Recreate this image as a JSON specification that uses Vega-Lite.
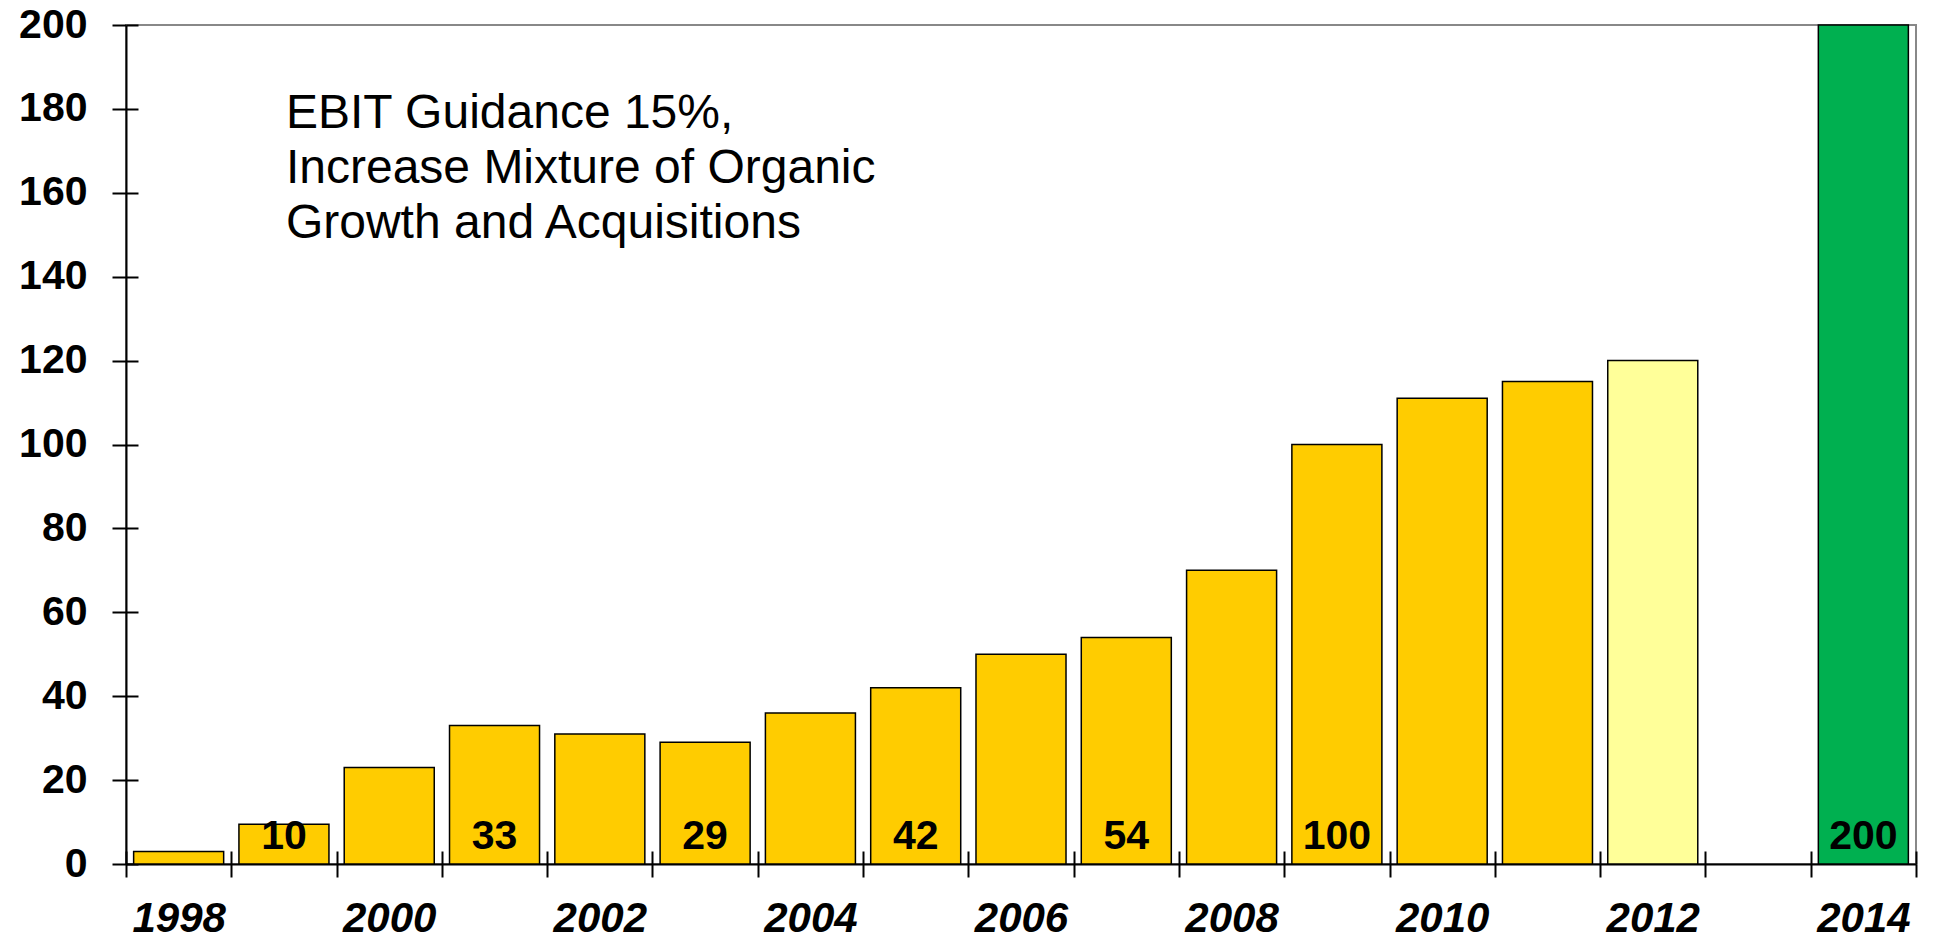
{
  "$schema": "https://vega.github.io/schema/vega-lite/v6.json",
  "width": 1790,
  "height": 839,
  "autosize": {"type": "none"},
  "padding": {"left": 126, "top": 25, "right": 17, "bottom": 73},
  "background": "white",
  "config": {
    "view": {"stroke": "#888888", "strokeWidth": 2},
    "font": "Liberation Sans"
  },
  "data": {
    "values": [
      {"year": "1998", "value": 3, "label": "", "kind": "actual"},
      {"year": "1999", "value": 9.5, "label": "10", "kind": "actual"},
      {"year": "2000", "value": 23, "label": "", "kind": "actual"},
      {"year": "2001", "value": 33, "label": "33", "kind": "actual"},
      {"year": "2002", "value": 31, "label": "", "kind": "actual"},
      {"year": "2003", "value": 29, "label": "29", "kind": "actual"},
      {"year": "2004", "value": 36, "label": "", "kind": "actual"},
      {"year": "2005", "value": 42, "label": "42", "kind": "actual"},
      {"year": "2006", "value": 50, "label": "", "kind": "actual"},
      {"year": "2007", "value": 54, "label": "54", "kind": "actual"},
      {"year": "2008", "value": 70, "label": "", "kind": "actual"},
      {"year": "2009", "value": 100, "label": "100", "kind": "actual"},
      {"year": "2010", "value": 111, "label": "", "kind": "actual"},
      {"year": "2011", "value": 115, "label": "", "kind": "actual"},
      {"year": "2012", "value": 120, "label": "", "kind": "plan"},
      {"year": "2014", "value": 200, "label": "200", "kind": "target"}
    ]
  },
  "resolve": {"axis": {"x": "independent", "y": "independent"}},
  "layer": [
    {
      "mark": {"type": "bar", "stroke": "black", "strokeWidth": 1.5, "width": {"band": 0.855}},
      "encoding": {
        "x": {
          "field": "year",
          "type": "ordinal",
          "scale": {
            "domain": ["1998","1999","2000","2001","2002","2003","2004","2005","2006","2007","2008","2009","2010","2011","2012","2013","2014"],
            "paddingInner": 0,
            "paddingOuter": 0
          },
          "axis": {
            "title": null,
            "tickBand": "extent",
            "labelExpr": "toNumber(datum.value) % 2 == 0 ? datum.label : ''",
            "labelAngle": 0,
            "labelFont": "Liberation Sans",
            "labelFontSize": 42,
            "labelFontWeight": "bold",
            "labelFontStyle": "italic",
            "labelColor": "black",
            "labelBaseline": "alphabetic",
            "labelPadding": 54,
            "tickSize": 13,
            "tickColor": "black",
            "tickWidth": 2,
            "domainColor": "black",
            "domainWidth": 2,
            "grid": false
          }
        },
        "y": {
          "field": "value",
          "type": "quantitative",
          "scale": {"domain": [0, 200], "nice": false},
          "axis": {
            "title": null,
            "values": [0, 20, 40, 60, 80, 100, 120, 140, 160, 180, 200],
            "labelFont": "Liberation Sans",
            "labelFontSize": 41,
            "labelFontWeight": "bold",
            "labelColor": "black",
            "labelPadding": 25,
            "tickSize": 14,
            "tickColor": "black",
            "tickWidth": 2,
            "domainColor": "black",
            "domainWidth": 2,
            "grid": false
          }
        },
        "color": {
          "field": "kind",
          "type": "nominal",
          "scale": {"domain": ["actual", "plan", "target"], "range": ["#FFCC00", "#FFFF99", "#00B050"]},
          "legend": null
        }
      }
    },
    {
      "transform": [{"filter": "datum.label != ''"}],
      "mark": {"type": "text", "font": "Liberation Sans", "fontSize": 41, "fontWeight": "bold", "color": "black", "baseline": "alphabetic", "dy": -15},
      "encoding": {
        "x": {
          "field": "year",
          "type": "ordinal",
          "axis": {
            "orient": "bottom",
            "title": null,
            "labels": false,
            "domain": false,
            "tickBand": "extent",
            "tickSize": -13,
            "tickColor": "black",
            "tickWidth": 2,
            "grid": false
          }
        },
        "y": {
          "datum": 0,
          "type": "quantitative",
          "axis": {
            "orient": "left",
            "title": null,
            "labels": false,
            "domain": false,
            "values": [0, 20, 40, 60, 80, 100, 120, 140, 160, 180, 200],
            "tickSize": -12,
            "tickColor": "black",
            "tickWidth": 2,
            "grid": false
          }
        },
        "text": {"field": "label"}
      }
    },
    {
      "data": {"values": [{"note": "EBIT Guidance 15%,\nIncrease Mixture of Organic\nGrowth and Acquisitions"}]},
      "mark": {"type": "text", "font": "Liberation Sans", "fontSize": 48, "lineHeight": 55, "lineBreak": "\n", "align": "left", "baseline": "alphabetic", "color": "black", "dx": 2},
      "encoding": {
        "x": {"datum": "1999", "type": "ordinal", "axis": null},
        "y": {"datum": 175.5, "type": "quantitative", "axis": null},
        "text": {"field": "note"}
      }
    }
  ]
}
